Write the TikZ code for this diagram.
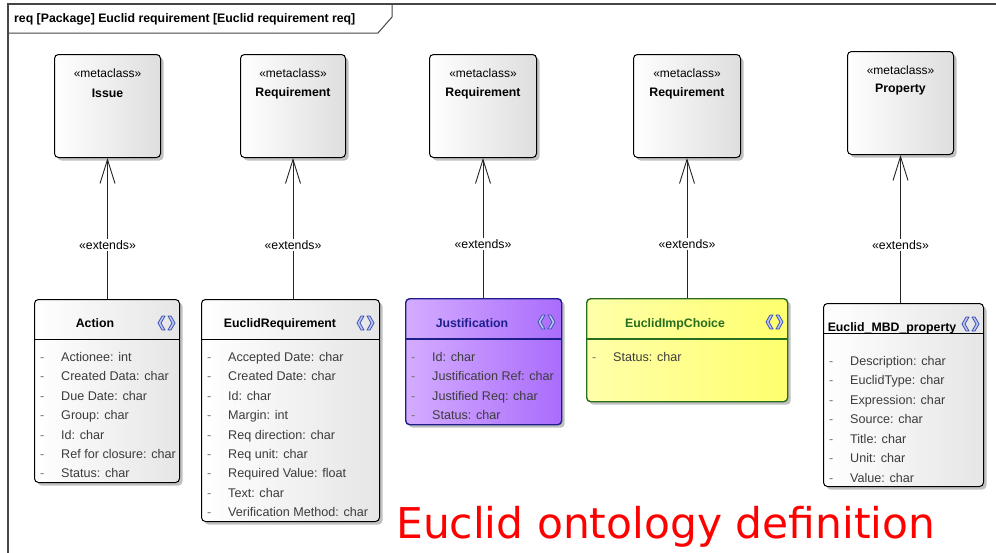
\documentclass[tikz,border=0pt]{standalone}
\usepackage{fontspec}
\setmainfont{Liberation Sans}
\newfontfamily\redfont{DejaVu Sans}
\usetikzlibrary{arrows.meta,shadows,calc}
\definecolor{framecol}{RGB}{70,70,70}
\definecolor{attrcol}{RGB}{60,60,60}
\definecolor{iconblue}{RGB}{60,80,180}
\definecolor{iconfill}{RGB}{190,200,245}
\definecolor{purpleL}{RGB}{212,172,255}
\definecolor{purpleR}{RGB}{170,108,252}
\definecolor{purpleB}{RGB}{30,30,140}
\definecolor{yellowL}{RGB}{255,255,170}
\definecolor{yellowR}{RGB}{255,255,110}
\definecolor{greenB}{RGB}{40,110,30}
\tikzset{
  shad/.style={drop shadow={shadow xshift=3pt,shadow yshift=-3pt,fill=black!30,opacity=0.8}},
  boxbase/.style={draw=black,line width=1pt,rounded corners=4pt,anchor=north west,inner sep=0pt,shad},
  metabox/.style={boxbase,left color=white,right color=black!13},
  graybox/.style={boxbase,left color=white,right color=black!10},
  purplebox/.style={boxbase,draw=purpleB,line width=1.4pt,left color=purpleL,right color=purpleR},
  yellowbox/.style={boxbase,draw=greenB,line width=1.4pt,left color=yellowL,right color=yellowR},
  stereo/.style={font=\fontsize{12}{14}\selectfont,inner sep=0pt},
  mname/.style={font=\fontsize{12.3}{14}\selectfont\bfseries,inner sep=0pt},
  ctitle/.style={font=\fontsize{12.3}{14}\selectfont\bfseries,inner sep=0pt,anchor=base},
  attr/.style={font=\fontsize{12.6}{14}\selectfont,text=attrcol,inner sep=0pt,anchor=base west},
  dashmark/.style={font=\fontsize{12.6}{14}\selectfont,text=black!55,inner sep=0pt,anchor=base west},
  extline/.style={draw=black!85,line width=0.9pt,-{Straight Barb[length=24pt,width=15pt,line width=0.9pt]}},
  extlabel/.style={fill=white,inner sep=1.5pt,font=\fontsize{12.3}{14}\selectfont},
  umlicon/.pic={
    \filldraw[draw=iconblue,fill=iconfill,line width=0.8pt,line join=round]
      (4,-7) -- (0,0) -- (4,7) -- (7,7) -- (3,0) -- (7,-7) -- cycle;
    \filldraw[draw=iconblue,fill=iconfill,line width=0.8pt,line join=round]
      (10,-7) -- (14,0) -- (10,7) -- (13,7) -- (17,0) -- (13,-7) -- cycle;
  }
}
\newcommand\attrlist[5]{%
  \foreach \t [count=\i] in {#5} {%
    \node[dashmark,name=#1d\i] at (#2,{#4+19.45*(\i-1)}) {-};
    \node[attr,name=#1t\i] at (#3,{#4+19.45*(\i-1)}) {\t};
  }%
}
\begin{document}
\begin{tikzpicture}[x=1pt,y=-1pt]
\useasboundingbox[fill=white] (0,0) rectangle (996,552);
% frame
\draw[framecol,line width=1.3pt] (8,560) -- (8,4) -- (1000,4);
\draw[framecol,line width=1pt] (8,33) -- (378,33) -- (392,17) -- (392,4);
\node[font=\fontsize{12.3}{14}\selectfont\bfseries,anchor=base west,inner sep=0pt] (ttl) at (14,22.5) {req [Package] Euclid requirement [Euclid requirement req]};

% metaclass boxes
\node[metabox,minimum width=106pt,minimum height=103pt] (issue) at (54,54) {};
\node[metabox,minimum width=105pt,minimum height=103pt] (req1) at (240,54) {};
\node[metabox,minimum width=107pt,minimum height=103pt] (req2) at (429,54) {};
\node[metabox,minimum width=107pt,minimum height=103pt] (req3) at (633,54) {};
\node[metabox,minimum width=106pt,minimum height=103pt] (prop) at (847,51) {};
\foreach \b/\n in {issue/Issue,req1/Requirement,req2/Requirement,req3/Requirement,prop/Property}{
  \node[stereo] (\b s) at ($(\b.north)+(0,19)$) {«metaclass»};
  \node[mname] (\b n) at ($(\b.north)+(0,39)$) {\n};
}

% class boxes
\node[graybox,minimum width=145pt,minimum height=183pt] (action) at (34,299) {};
\node[graybox,minimum width=178pt,minimum height=222pt] (ereq) at (201,299) {};
\node[purplebox,minimum width=156pt,minimum height=126pt] (just) at (405,298) {};
\node[yellowbox,minimum width=201pt,minimum height=103pt] (imp) at (586,298) {};
\node[graybox,minimum width=160pt,minimum height=183pt] (mbd) at (823,303) {};

\draw[line width=1pt] ($(action.north west)+(0,40)$) -- ($(action.north east)+(0,40)$);
\draw[line width=1pt] ($(ereq.north west)+(0,40)$) -- ($(ereq.north east)+(0,40)$);
\draw[purpleB,line width=1.4pt] ($(just.north west)+(0,41)$) -- ($(just.north east)+(0,41)$);
\draw[greenB,line width=1.4pt] ($(imp.north west)+(0,41)$) -- ($(imp.north east)+(0,41)$);
\draw[line width=1pt] ($(mbd.north west)+(0,30)$) -- ($(mbd.north east)+(0,30)$);

% titles
\node[ctitle] (actionT) at (95,327.5) {Action};
\node[ctitle] (ereqT) at (280,327.5) {EuclidRequirement};
\node[ctitle,text=purpleB] (justT) at (472,327.5) {Justification};
\node[ctitle,text=greenB] (impT) at (675,327.5) {EuclidImpChoice};
\node[ctitle] (mbdT) at (892,331) {Euclid\_MBD\_property};

% icons
\pic (icA) at (158,323) {umlicon};
\pic (icE) at (357,323) {umlicon};
\pic (icJ) at (538,322) {umlicon};
\pic (icI) at (766,322) {umlicon};
\pic (icM) at (962,324) {umlicon};

% attributes
\attrlist{a}{40}{61}{361.2}{Actionee: int,Created Data: char,Due Date: char,Group: char,Id: char,Ref for closure: char,Status: char}
\attrlist{e}{207}{228}{361.2}{Accepted Date: char,Created Date: char,Id: char,Margin: int,Req direction: char,Req unit: char,Required Value: float,Text: char,Verification Method: char}
\attrlist{j}{411}{432}{361.2}{Id: char,Justification Ref: char,Justified Req: char,Status: char}
\attrlist{i}{592}{613}{361.2}{Status: char}
\attrlist{m}{829}{850}{365.5}{Description: char,EuclidType: char,Expression: char,Source: char,Title: char,Unit: char,Value: char}

% extends connectors
\draw[extline] (issue.south |- action.north) -- node[pos=0.383,extlabel] (l1) {«extends»} (issue.south);
\draw[extline] (req1.south |- ereq.north) -- node[pos=0.383,extlabel] (l2) {«extends»} (req1.south);
\draw[extline] (req2.south |- just.north) -- node[pos=0.383,extlabel] (l3) {«extends»} (req2.south);
\draw[extline] (req3.south |- imp.north) -- node[pos=0.383,extlabel] (l4) {«extends»} (req3.south);
\draw[extline] (prop.south |- mbd.north) -- node[pos=0.39,extlabel] (l5) {«extends»} (prop.south);

% red caption
\node[font=\redfont\fontsize{42.4}{48}\selectfont,text=red,anchor=base west,inner sep=0pt] (cap) at (396,538) {Euclid ontology definition};
\end{tikzpicture}
\end{document}
